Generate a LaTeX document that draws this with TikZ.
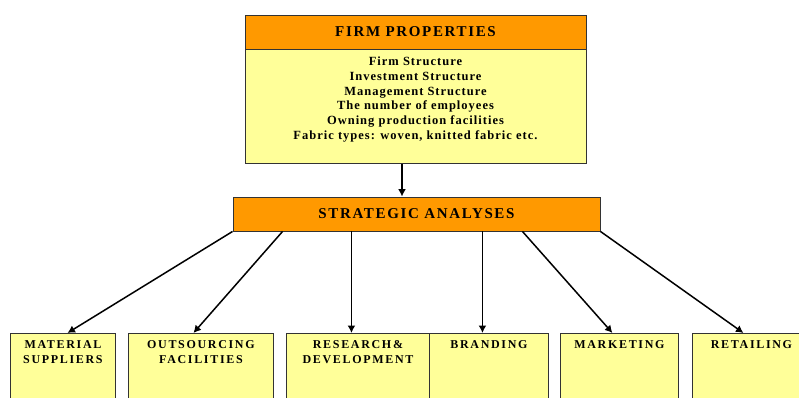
\documentclass[tikz,border=0pt]{standalone}
\usepackage{fontspec}
\setmainfont{Liberation Serif}
\usetikzlibrary{arrows.meta}
\definecolor{hdrorange}{HTML}{FF9900}
\definecolor{boxyellow}{HTML}{FFFF99}
\begin{document}
\begin{tikzpicture}[x=1pt,y=-1pt,
        hdr/.style={draw=black!80,fill=hdrorange,line width=0.9pt,inner sep=0pt,
          font=\fontsize{15}{16}\selectfont\bfseries\addfontfeatures{LetterSpace=11}},
        body/.style={draw=black!80,fill=boxyellow,line width=0.9pt,inner sep=0pt,
          font=\fontsize{12.5}{14.8}\selectfont\bfseries\addfontfeatures{LetterSpace=8}},
        leaf/.style={draw=black!80,fill=boxyellow,line width=0.9pt,minimum height=90,
          anchor=north west},
        leaftxt/.style={anchor=north,yshift=-4pt,align=center,
          font=\fontsize{12}{15}\selectfont\bfseries\addfontfeatures{LetterSpace=14}},
        arr/.style={line width=1.5pt,-{Latex[length=7.5pt,width=8pt]}}]
        \useasboundingbox (0,0) rectangle (799,397);
        \node[hdr,minimum width=341,minimum height=34] (fp) at (415.5,32) {FIRM PROPERTIES};
        \node[body,minimum width=341,minimum height=114,anchor=north] (fpbody) at (fp.south)
          {\parbox[c][100pt][t]{330pt}{\centering Firm Structure\\ Investment Structure\\
           Management Structure\\ The number of employees\\ Owning production facilities\\
           Fabric types: woven, knitted fabric etc.}};
        \node[hdr,minimum width=367,minimum height=34] (sa) at (416.5,214) {STRATEGIC ANALYSES};
        % bottom row
        \node[leaf,minimum width=105,label={[leaftxt]north:MATERIAL\\SUPPLIERS}] (mat) at (10,333) {};
        \node[leaf,minimum width=145,label={[leaftxt]north:OUTSOURCING\\FACILITIES}] (out) at (128,333) {};
        \node[leaf,minimum width=143,label={[leaftxt]north:RESEARCH\&\\DEVELOPMENT}] (res) at (286,333) {};
        \node[leaf,minimum width=119,label={[leaftxt]north:BRANDING}] (bra) at (429,333) {};
        \node[leaf,minimum width=118,label={[leaftxt]north:MARKETING}] (mar) at (560,333) {};
        \node[leaf,minimum width=118,label={[leaftxt]north:RETAILING}] (ret) at (692,333) {};
        % arrows
        \draw[arr] ([xshift=-13.5pt]fpbody.south) -- ([xshift=-14.5pt]sa.north);
        \draw[arr] (sa.south west) -- ([xshift=4.5pt]mat.north);
        \draw[arr] ([xshift=50pt]sa.south west) -- ([xshift=-7.5pt]out.north);
        \draw[arr] ([xshift=-6.5pt]res.north |- sa.south) -- ([xshift=-6.5pt]res.north);
        \draw[arr] ([xshift=-6.5pt]bra.north |- sa.south) -- ([xshift=-6.5pt]bra.north);
        \draw[arr] ([xshift=-78pt]sa.south east) -- ([xshift=-7pt]mar.north);
        \draw[arr] (sa.south east) -- ([xshift=-8pt]ret.north);
\end{tikzpicture}
\end{document}
